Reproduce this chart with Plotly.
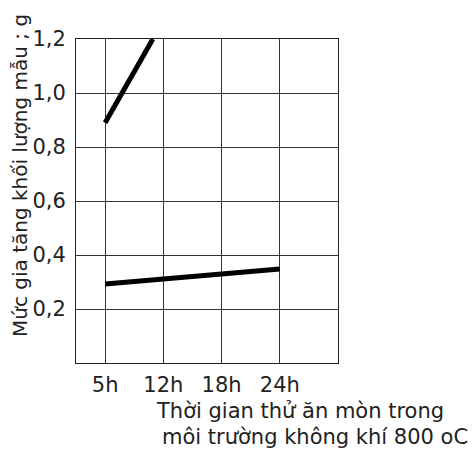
import plotly.graph_objects as go

categories = ["5h", "12h", "18h", "24h"]
cat_pos = [1, 2, 3, 4]
line1_x = [1, 1.82]
line1_y = [0.89, 1.2]
line2_x = [1, 4]
line2_y = [0.293, 0.348]
y_ticks = [0.2, 0.4, 0.6, 0.8, 1.0, 1.2]
y_ticktext = ["0,2", "0,4", "0,6", "0,8", "1,0", "1,2"]

FONT = "DejaVu Sans"

fig = go.Figure()
fig.add_trace(go.Scatter(x=line1_x, y=line1_y, mode="lines",
                         line=dict(color="black", width=5), showlegend=False))
fig.add_trace(go.Scatter(x=line2_x, y=line2_y, mode="lines",
                         line=dict(color="black", width=5), showlegend=False))

fig.update_layout(
    width=468, height=442,
    margin=dict(l=68, r=138, t=31, b=87),
    plot_bgcolor="white", paper_bgcolor="white",
    font=dict(family=FONT, size=18, color="#222"),
    xaxis=dict(range=[0.5, 5], tickvals=cat_pos + [5], ticktext=categories + [""],
               showgrid=True, gridcolor="#333", gridwidth=1,
               showline=True, linecolor="#222", linewidth=1, mirror=True,
               ticks="", zeroline=False, tickfont=dict(size=21), automargin=False,
               ticklabelstandoff=3),
    yaxis=dict(range=[0, 1.2], tickvals=y_ticks, ticktext=y_ticktext,
               showgrid=True, gridcolor="#333", gridwidth=1,
               showline=True, linecolor="#222", linewidth=1, mirror=True,
               ticks="", zeroline=False, tickfont=dict(size=21), ticklabelstandoff=5,
               automargin=False),
    annotations=[
        dict(text="Mức gia tăng khối lượng mẫu ; g", textangle=-90,
             xref="paper", yref="paper", x=-0.214, y=0.58, showarrow=False,
             xanchor="center", yanchor="middle", font=dict(size=20)),
        dict(text="Thời gian thử ăn mòn trong", xref="paper", yref="paper",
             x=0.855, y=-0.148, showarrow=False, xanchor="center", yanchor="middle",
             font=dict(size=21)),
        dict(text="môi trường không khí 800 oC", xref="paper", yref="paper",
             x=0.913, y=-0.228, showarrow=False, xanchor="center", yanchor="middle",
             font=dict(size=21)),
    ],
)

fig.write_html("out.html")
